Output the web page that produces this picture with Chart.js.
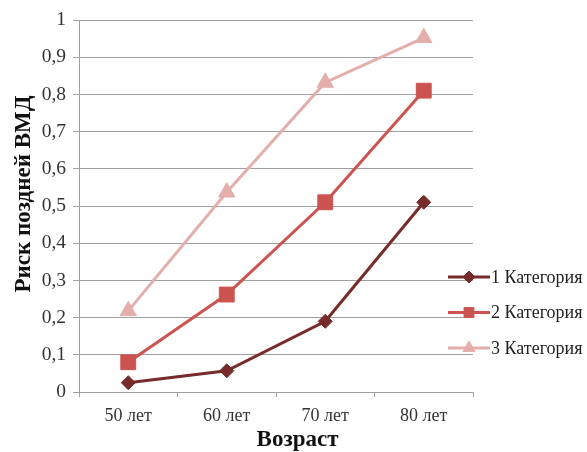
<!DOCTYPE html>
<html>
<head>
<meta charset="utf-8">
<script src="https://cdn.jsdelivr.net/npm/chart.js@4"></script>
<style>
  html, body { margin: 0; padding: 0; background: #fff; }
  #wrap { width: 587px; height: 452px; }
</style>
</head>
<body>
<div id="wrap"><canvas id="riskChart" width="587" height="452"></canvas></div>
<script>
// categories and series
const ages = ["50 лет", "60 лет", "70 лет", "80 лет"];
const cat1 = [0.025, 0.057, 0.19, 0.51];
const cat2 = [0.08, 0.262, 0.51, 0.81];
const cat3 = [0.218, 0.537, 0.832, 0.952];
const seriesNames = ["1 Категория", "2 Категория", "3 Категория"];
const yTickLabels = ["0", "0,1", "0,2", "0,3", "0,4", "0,5", "0,6", "0,7", "0,8", "0,9", "1"];

const colors = ["#772b2b", "#cc5450", "#e3aeab"];
const markers = ["rectRot", "rect", "triangle"];
const markerSize = [7, 10.5, 9.5];
const legendMarkerSize = [6, 7, 7];
const serif = "'Liberation Serif', 'Times New Roman', serif";

const seriesData = [cat1, cat2, cat3];
const datasets = seriesData.map((d, i) => ({
  label: seriesNames[i],
  data: d,
  borderColor: colors[i],
  backgroundColor: colors[i],
  borderWidth: 3,
  pointStyle: markers[i],
  pointRadius: markerSize[i],
  pointHoverRadius: markerSize[i],
  pointBorderWidth: 1,
  tension: 0
}));

// legend + axis titles drawn by hand, Excel style
const extras = {
  id: "extras",
  afterDraw(chart) {
    const ctx = chart.ctx;
    const area = chart.chartArea;
    ctx.save();
    // legend
    const lx = area.right - 25;
    chart.data.datasets.forEach((ds, i) => {
      const y = area.bottom - 115 + i * 35.5;
      ctx.strokeStyle = ds.borderColor;
      ctx.lineWidth = 3;
      ctx.beginPath();
      ctx.moveTo(lx, y);
      ctx.lineTo(lx + 42, y);
      ctx.stroke();
      ctx.fillStyle = ds.backgroundColor;
      ctx.strokeStyle = ds.borderColor;
      ctx.lineWidth = 1;
      Chart.helpers.drawPoint(ctx, {
        pointStyle: ds.pointStyle,
        radius: legendMarkerSize[i],
        rotation: 0,
        borderWidth: 1
      }, lx + 21, y);
      ctx.fillStyle = "#222";
      ctx.font = "18px " + serif;
      ctx.textAlign = "left";
      ctx.textBaseline = "middle";
      ctx.fillText(ds.label, lx + 43, y + 1);
    });
    // x axis title
    ctx.fillStyle = "#111";
    ctx.font = "bold 23px " + serif;
    ctx.textAlign = "center";
    ctx.textBaseline = "middle";
    ctx.fillText("Возраст", chart.width / 2 + 4, 440);
    // y axis title
    ctx.translate(24, (area.top + area.bottom) / 2 - 12);
    ctx.rotate(-Math.PI / 2);
    ctx.fillText("Риск поздней ВМД", 0, 0);
    ctx.restore();
  }
};

new Chart(document.getElementById("riskChart"), {
  type: "line",
  data: { labels: ages, datasets: datasets },
  plugins: [extras],
  options: {
    responsive: false,
    animation: false,
    layout: { padding: { top: 20, right: 114, left: 0, bottom: 0 } },
    plugins: {
      legend: { display: false },
      tooltip: { enabled: false }
    },
    scales: {
      x: {
        offset: true,
        afterFit(s) { s.height = 60; },
        grid: {
          offset: true,
          drawOnChartArea: false,
          drawTicks: true,
          tickLength: 5,
          color: "#a0a0a0",
          lineWidth: 1
        },
        border: { color: "#a0a0a0", width: 1 },
        ticks: {
          color: "#333",
          padding: 8,
          font: { family: serif, size: 18 }
        }
      },
      y: {
        min: 0,
        max: 1,
        afterFit(s) { s.width = 79; },
        grid: {
          color: "#a0a0a0",
          lineWidth: 1,
          tickLength: 6
        },
        border: { color: "#a0a0a0", width: 1 },
        ticks: {
          stepSize: 0.1,
          color: "#333",
          padding: 7,
          font: { family: serif, size: 19.5 },
          callback: (v, i) => yTickLabels[i]
        }
      }
    }
  }
});
</script>
</body>
</html>
